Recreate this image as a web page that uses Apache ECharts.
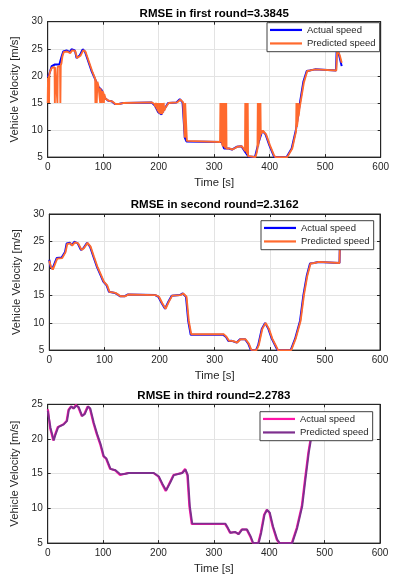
<!DOCTYPE html>
<html>
<head>
<meta charset="utf-8">
<script src="https://cdn.jsdelivr.net/npm/echarts@6/dist/echarts.min.js"></script>
<style>
  html, body { margin: 0; padding: 0; background: #ffffff; }
  .panel { position: absolute; left: 0; width: 395px; height: 193px; }
</style>
</head>
<body>
<div id="round1" class="panel" style="top:0px"></div>
<div id="round2" class="panel" style="top:193px"></div>
<div id="round3" class="panel" style="top:386px"></div>
<script>
// ---- Round 1 ----
const title1 = 'RMSE in first round=3.3845';
const actualTime1 = [0, 3, 7.2, 13, 21, 25.2, 28, 34, 40, 43, 49, 52, 58, 63, 67, 73, 79, 85, 91, 97, 103, 109, 115, 121, 128, 136, 187, 193, 199, 205, 211, 217, 232, 238, 243, 247, 250, 253, 313.5, 317.7, 326, 332, 340.5, 349, 355.5, 361.5, 373.5, 379.5, 386.7, 392.5, 399.3, 406.5, 409, 430.6, 439.6, 447.4, 454.6, 460.6, 466.7, 472, 481.6, 485, 519.5, 520.7, 523.7, 529.7];
const actualSpeed1 = [19.8, 20.4, 21.8, 22.1, 22.1, 23.6, 24.5, 24.7, 24.4, 24.9, 24.7, 23.3, 23.8, 24.9, 24.5, 22.7, 20.9, 19.5, 18.0, 17.4, 15.9, 15.4, 15.3, 14.8, 14.8, 15.0, 15.1, 14.5, 13.3, 12.9, 14.0, 15.0, 15.1, 15.7, 15.1, 8.6, 7.9, 7.8, 7.8, 6.6, 6.6, 6.4, 6.9, 7.0, 6.0, 5.1, 5.0, 7.5, 9.9, 9.2, 7.2, 5.4, 5.0, 5.0, 6.6, 10.1, 15.1, 18.9, 20.9, 21.0, 21.2, 21.0, 21.0, 25.0, 24.4, 21.8];
const predTime1 = [0, 0.6, 1.2, 1.8, 2.4, 3.0, 5, 7.5, 12.4, 12.9, 13.5, 17.0, 17.5, 18.1, 22.2, 22.8, 23.5, 24.7, 26.5, 29, 35, 40.5, 44, 49.5, 53, 59, 64, 68, 74, 80,
  85.5, 86, 86.7, 87.6, 88.3, 89.5, 91.5, 94, 94.6, 95.3, 96.8, 97.6, 98.4, 100.5, 101.2, 102, 104, 110, 116, 122, 129, 137, 188,
  192, 193, 194, 195, 196, 197, 198, 199, 200, 201, 202, 203, 204, 205, 206, 207, 208, 209, 210, 212, 218, 233, 239, 244, 246, 247, 247.7, 250, 250.8, 254,
  310.6, 311.2, 311.8, 313, 313.6, 314.2, 315.6, 316.2, 316.8, 318.4, 319, 319.6, 321, 321.6, 322.2, 327, 333, 341.5, 350,
  355.5, 356, 356.6, 357.6, 358.2, 358.8, 359.8, 360.4, 361, 363, 374.5, 377,
  378, 378.6, 379.2, 380.3, 380.9, 381.5, 382.7, 383.3, 383.9, 385, 387.7, 393.5, 400.3, 407.5, 410, 431.6, 440.6,
  447.5, 448.2, 449, 450.6, 451.3, 452, 453.8, 455.6, 461.6, 467.7, 473, 482.6, 486, 520, 521.5, 523.7, 525.5, 527, 529.8];
const predSpeed1 = [15, 19.6, 15, 20.0, 15, 20.3, 21.0, 21.5, 21.6, 15, 21.6, 21.7, 15, 21.7, 21.8, 15, 21.9, 22.3, 23.6, 24.4, 24.5, 24.2, 24.7, 24.6, 23.3, 23.7, 24.7, 24.5, 22.7, 20.9,
  19.5, 15, 19.3, 19.1, 15, 18.9, 18.1, 17.8, 15, 17.7, 17.5, 15, 17.2, 16.8, 15, 16.6, 15.8, 15.4, 15.3, 14.8, 14.8, 15.0, 15.1,
  14.8, 15, 14.3, 15, 13.9, 15, 13.5, 15, 13.2, 15, 13.0, 15, 12.9, 15, 12.9, 15, 13.2, 15, 13.6, 14.1, 15.0, 15.1, 15.6, 15.1, 15, 8.6, 15, 15, 8.0, 7.9,
  7.8, 15, 7.8, 7.7, 15, 7.5, 7.0, 15, 6.9, 6.7, 15, 6.6, 6.6, 15, 6.6, 6.6, 6.4, 6.9, 7.0,
  6.2, 15, 6.0, 5.7, 15, 5.6, 5.3, 15, 5.2, 5.0, 5.0, 6.0,
  6.6, 15, 7.0, 7.8, 15, 8.2, 9.0, 15, 9.2, 9.4, 9.9, 9.2, 7.2, 5.4, 5.0, 5.0, 6.6,
  9.8, 15, 10.6, 11.8, 15, 12.5, 14.0, 15.1, 18.8, 20.9, 21.0, 21.2, 21.0, 21.0, 24.6, 24.4, 24.0, 23.5, 22.4];

// ---- Round 2 ----
const title2 = 'RMSE in second round=2.3162';
const actualTime2 = [0, 2, 5.5, 9, 13.4, 22.4, 26, 28.5, 31.5, 37.5, 40.6, 45.4, 51.5, 57.5, 61.8, 68.4, 73.9, 79.9, 86, 92, 98, 104, 108.3, 119, 124, 128, 137, 142, 192, 198, 204, 210, 216, 222, 237, 242, 244.5, 248, 252, 256.6, 315.8, 320.7, 325, 331, 340, 346, 355, 361, 365.5, 375, 379, 385.5, 391.5, 397.5, 403.6, 409.6, 414, 438, 446, 455, 461, 467, 473, 480, 488, 491, 526.5, 527, 528];
const actualSpeed2 = [21.6, 20.4, 19.9, 20.8, 21.9, 22.0, 22.1, 23.0, 24.6, 24.7, 24.3, 24.9, 24.6, 23.4, 23.7, 24.7, 24.0, 22.2, 20.4, 19.0, 17.6, 16.9, 15.7, 15.5, 15.2, 14.9, 14.9, 15.2, 15.1, 14.8, 13.6, 12.6, 13.9, 15.0, 15.1, 15.4, 15.7, 14.8, 10.4, 7.8, 7.8, 7.4, 6.65, 6.7, 6.4, 7.0, 7.0, 6.2, 5.05, 5.0, 5.9, 8.9, 10.0, 8.9, 7.1, 5.9, 5.0, 5.0, 7.1, 10.4, 15.1, 18.6, 20.9, 21.0, 21.2, 21.0, 21.0, 23.5, 26.0];
const predTime2 = [0, 3, 6.5, 10, 14.4, 23.4, 27, 29.5, 32.5, 38.5, 41.6, 46.4, 52.5, 58.5, 62.8, 69.4, 74.9, 80.9, 87, 93, 99, 105, 109.3, 120, 125, 129, 138, 143, 193, 199, 205, 211, 217, 223, 238, 243, 245.5, 249, 253, 257.6, 316.8, 321.7, 326, 332, 341, 347, 356, 362, 366.5, 376, 380, 386.5, 392.5, 398.5, 404.6, 410.6, 415, 439, 447, 456, 462, 468, 474, 481, 489, 492, 526.5, 527, 528];
const predSpeed2 = [21.4, 20.3, 19.8, 20.7, 21.8, 21.9, 22.0, 23.0, 24.5, 24.6, 24.2, 24.8, 24.6, 23.4, 23.7, 24.7, 24.0, 22.2, 20.4, 19.0, 17.6, 16.9, 15.7, 15.5, 15.2, 14.9, 14.9, 15.2, 15.1, 14.8, 13.6, 12.6, 13.9, 15.0, 15.1, 15.4, 15.6, 14.8, 10.4, 7.9, 7.9, 7.4, 6.7, 6.7, 6.4, 7.0, 7.0, 6.2, 5.05, 5.0, 5.9, 8.9, 10.0, 8.9, 7.1, 5.9, 5.0, 5.0, 7.1, 10.4, 15.1, 18.6, 20.9, 21.0, 21.2, 21.0, 21.0, 23.5, 26.0];

// ---- Round 3 ----
const title3 = 'RMSE in third round=2.2783';
const actualTime3 = [0, 1, 4.2, 10, 13, 18, 28, 34, 37.3, 42, 46, 51, 55, 61.4, 66, 72, 76, 82.4, 88.4, 94.4, 100.4, 105, 112.5, 121.5, 130.5, 139.5, 145.6, 190.7, 199.7, 205.8, 213, 220.8, 226.8, 242, 248, 252, 255.7, 260, 320, 324.3, 329, 338, 344, 350, 359, 365.3, 370, 380, 384.6, 390.6, 395.4, 400, 406, 413.5, 418, 440.6, 449.6, 458.6, 464.6, 470.6, 475, 479, 485, 500, 535];
const actualSpeed3 = [24.3, 24.0, 21.6, 19.8, 20.6, 21.7, 22.1, 22.6, 24.2, 24.7, 24.4, 24.9, 24.6, 23.3, 23.6, 24.7, 24.4, 22.3, 20.7, 19.3, 17.5, 17.2, 15.7, 15.5, 14.8, 15.0, 15.1, 15.1, 14.6, 13.6, 12.5, 13.8, 14.8, 15.1, 15.7, 14.8, 10.3, 7.75, 7.75, 7.2, 6.5, 6.6, 6.3, 6.95, 6.95, 6.0, 5.05, 5.0, 6.5, 9.1, 9.8, 9.4, 7.4, 5.5, 5.0, 5.0, 7.2, 10.3, 14.3, 18.1, 20.2, 20.9, 21.0, 21.1, 21.0];
const predTime3 = [0, 2, 5.2, 11, 14, 19, 29, 35, 38.3, 43, 47, 52, 56, 62.4, 67, 73, 77, 83.4, 89.4, 95.4, 101.4, 106, 113.5, 122.5, 131.5, 140.5, 146.6, 191.7, 200.7, 206.8, 214, 221.8, 227.8, 243, 249, 253, 256.7, 261, 321, 325.3, 330, 339, 345, 351, 360, 366.3, 371, 381, 385.6, 391.6, 396.4, 401, 407, 414.5, 419, 441.6, 450.6, 459.6, 465.6, 471.6, 476, 480, 486, 501, 535];
const predSpeed3 = [24.1, 23.9, 21.6, 19.8, 20.6, 21.7, 22.1, 22.6, 24.2, 24.7, 24.4, 24.8, 24.6, 23.3, 23.6, 24.7, 24.4, 22.3, 20.7, 19.3, 17.5, 17.2, 15.7, 15.5, 14.9, 15.0, 15.1, 15.1, 14.6, 13.6, 12.6, 13.8, 14.8, 15.1, 15.6, 14.8, 10.3, 7.8, 7.8, 7.2, 6.5, 6.6, 6.3, 6.95, 6.95, 6.0, 5.05, 5.0, 6.5, 9.1, 9.8, 9.4, 7.4, 5.5, 5.0, 5.0, 7.2, 10.3, 14.3, 18.1, 20.2, 20.9, 21.0, 21.1, 21.0];

// ---- Axis ranges ----
const timeMin = 0, timeMax = 600, timeStep = 100;
const speedMin = 5, speedStep = 5;
const speedMax12 = 30, speedMax3 = 25;

const seriesNames = ['Actual speed', 'Predicted speed'];

const FONT = '"Liberation Sans", Arial, Helvetica, sans-serif';
const INK = '#262626';
const GRID_LINE = '#e3e3e3';

function pairs(ts, vs) {
  return ts.map(function (t, i) { return [t, vs[i]]; });
}

function valueAxis(opts) {
  return Object.assign({
    type: 'value',
    axisLine: { show: true, onZero: false, lineStyle: { color: INK, width: 1 } },
    axisTick: { show: true, inside: true, length: 3, lineStyle: { color: INK, width: 1 } },
    axisLabel: { show: true, color: INK, fontSize: 10, fontFamily: FONT, margin: 5 },
    splitLine: { show: true, lineStyle: { color: GRID_LINE, width: 1 } }
  }, opts);
}

function boxAxis(base, pos) {
  return Object.assign({}, base, {
    position: pos,
    name: '',
    axisLabel: { show: false },
    splitLine: { show: false }
  });
}

function buildPanel(el, cfg) {
  const chart = echarts.init(el, null, { renderer: 'canvas' });
  const cx = cfg.left + cfg.width / 2;
  const xBase = valueAxis({
    min: timeMin, max: timeMax, interval: timeStep,
    name: 'Time [s]', nameLocation: 'middle', nameGap: 19,
    nameTextStyle: { color: INK, fontSize: 11.3, fontFamily: FONT }
  });
  const yBase = valueAxis({
    min: speedMin, max: cfg.yMax, interval: speedStep,
    name: 'Vehicle Velocity [m/s]', nameLocation: 'middle', nameGap: 19,
    nameTextStyle: { color: INK, fontSize: 11.3, fontFamily: FONT }
  });
  chart.setOption({
    animation: false,
    backgroundColor: '#ffffff',
    title: {
      text: cfg.title,
      left: cx, top: cfg.titleTop, textAlign: 'center', padding: 0,
      textStyle: { color: '#000000', fontSize: 11.5, fontWeight: 'bold', fontFamily: FONT }
    },
    grid: {
      left: cfg.left, top: cfg.top, width: cfg.width, height: cfg.height,
      show: true, borderColor: INK, borderWidth: 1, backgroundColor: '#ffffff'
    },
    legend: {
      orient: 'vertical',
      left: cfg.legendLeft, top: cfg.legendTop,
      data: seriesNames,
      icon: 'rect', itemWidth: 32, itemHeight: 2.2, itemGap: 1,
      padding: [1, 4, 2, 3],
      backgroundColor: '#ffffff', borderColor: '#404040', borderWidth: 1,
      textStyle: { color: INK, fontSize: 9.5, fontFamily: FONT, lineHeight: 12.5 },
      selectedMode: false
    },
    xAxis: [xBase, boxAxis(xBase, 'top')],
    yAxis: [yBase, boxAxis(yBase, 'right')],
    series: [
      {
        name: seriesNames[0], type: 'line', xAxisIndex: 0, yAxisIndex: 0,
        data: pairs(cfg.actualTime, cfg.actualSpeed),
        showSymbol: false, symbol: 'none', clip: true,
        color: cfg.colors[0],
        lineStyle: { color: cfg.colors[0], width: 2 }
      },
      {
        name: seriesNames[1], type: 'line', xAxisIndex: 0, yAxisIndex: 0,
        data: pairs(cfg.predTime, cfg.predSpeed),
        showSymbol: false, symbol: 'none', clip: true,
        color: cfg.colors[1],
        lineStyle: { color: cfg.colors[1], width: 1.9 }
      }
    ]
  });
}

buildPanel(document.getElementById('round1'), {
  title: title1, titleTop: 7.5,
  left: 47.7, top: 21.7, width: 333, height: 142.3, yMax: speedMax12,
  legendLeft: 267, legendTop: 22.7,
  colors: ['#0000ff', '#ff6a2e'],
  actualTime: actualTime1, actualSpeed: actualSpeed1,
  predTime: predTime1, predSpeed: predSpeed1
});

buildPanel(document.getElementById('round2'), {
  title: title2, titleTop: 5.8,
  left: 49.3, top: 21, width: 330.7, height: 141, yMax: speedMax12,
  legendLeft: 261, legendTop: 27.7,
  colors: ['#0000ff', '#ff6a2e'],
  actualTime: actualTime2, actualSpeed: actualSpeed2,
  predTime: predTime2, predSpeed: predSpeed2
});

buildPanel(document.getElementById('round3'), {
  title: title3, titleTop: 3.5,
  left: 47.7, top: 18.3, width: 332.3, height: 140.7, yMax: speedMax3,
  legendLeft: 260, legendTop: 25.7,
  colors: ['#ff14a8', '#7e2f8e'],
  actualTime: actualTime3, actualSpeed: actualSpeed3,
  predTime: predTime3, predSpeed: predSpeed3
});
</script>
</body>
</html>
